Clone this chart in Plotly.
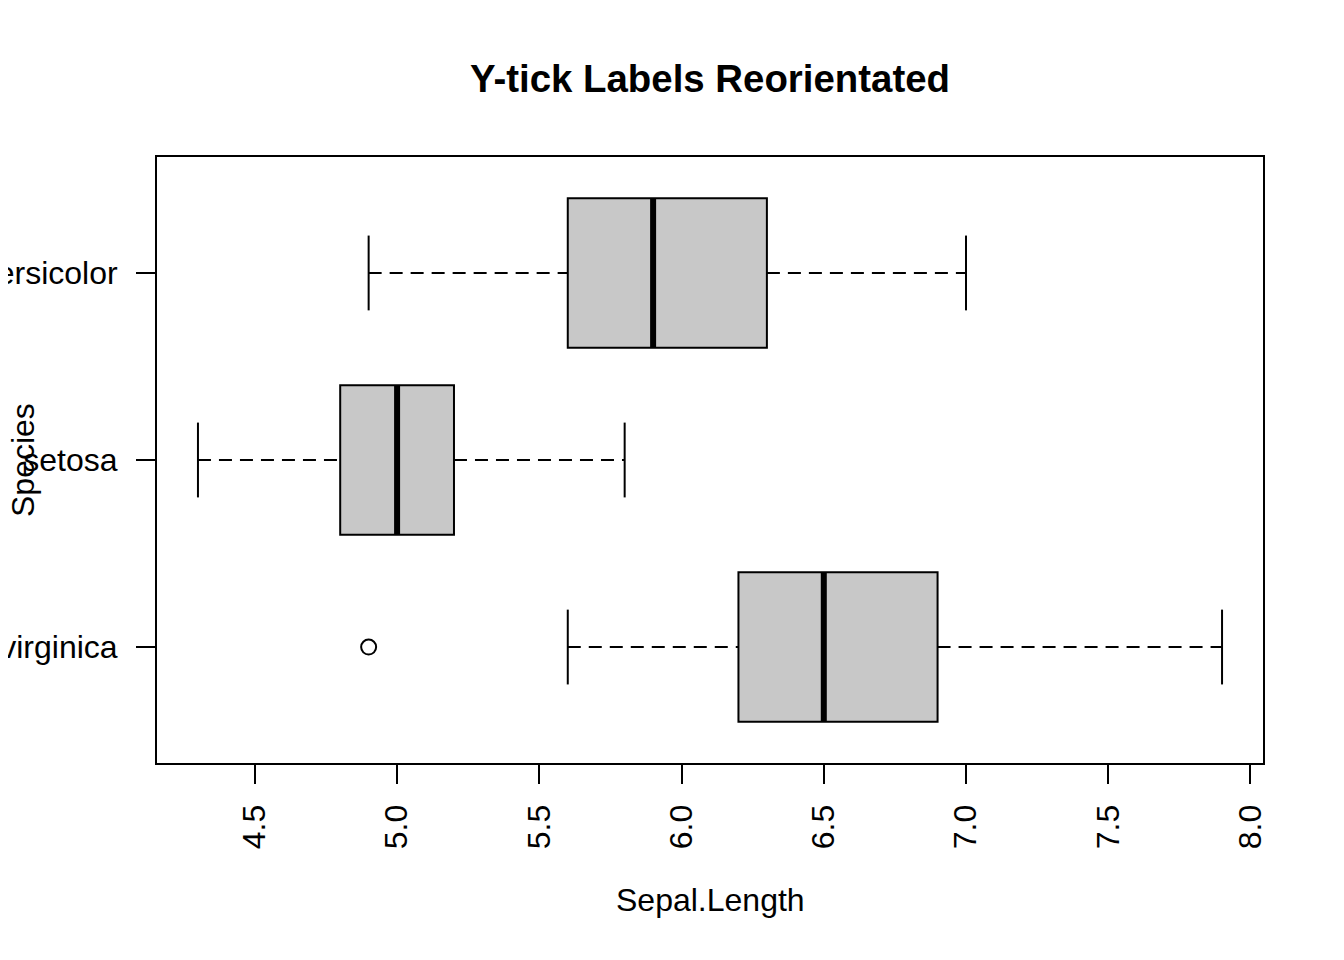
import plotly.graph_objects as go

# Data (bottom to top order on the y axis)
categories = ["virginica", "setosa", "versicolor"]
lower_whisker = [5.6, 4.3, 4.9]
q1 = [6.2, 4.8, 5.6]
median = [6.5, 5.0, 5.9]
q3 = [6.9, 5.2, 6.3]
upper_whisker = [7.9, 5.8, 7.0]
outliers = [[4.9], [], []]

x_ticks = [4.5, 5.0, 5.5, 6.0, 6.5, 7.0, 7.5, 8.0]
x_ticklabels = ["4.5", "5.0", "5.5", "6.0", "6.5", "7.0", "7.5", "8.0"]

FONT = "Liberation Sans, Arial, Helvetica, sans-serif"
BOX_HALF = 0.4
STAPLE_HALF = 0.2
OFF = 8  # page body offset compensation

fig = go.Figure()
shapes = []

for i, cat in enumerate(categories):
    pos = i + 1
    # dashed whiskers
    fig.add_trace(go.Scatter(
        x=[lower_whisker[i], q1[i]], y=[pos, pos], mode="lines",
        line=dict(color="black", width=2, dash="13px,8px"),
        showlegend=False, hoverinfo="skip"))
    fig.add_trace(go.Scatter(
        x=[q3[i], upper_whisker[i]], y=[pos, pos], mode="lines",
        line=dict(color="black", width=2, dash="13px,8px"),
        showlegend=False, hoverinfo="skip"))
    # staples
    for w in (lower_whisker[i], upper_whisker[i]):
        shapes.append(dict(type="line", xref="x", yref="y",
                           x0=w, x1=w, y0=pos - STAPLE_HALF, y1=pos + STAPLE_HALF,
                           line=dict(color="black", width=2)))
    # box
    shapes.append(dict(type="rect", xref="x", yref="y",
                       x0=q1[i], x1=q3[i], y0=pos - BOX_HALF, y1=pos + BOX_HALF,
                       fillcolor="#C8C8C8", line=dict(color="black", width=2),
                       layer="above"))
    # median
    shapes.append(dict(type="line", xref="x", yref="y",
                       x0=median[i], x1=median[i], y0=pos - BOX_HALF, y1=pos + BOX_HALF,
                       line=dict(color="black", width=6), layer="above"))
    # outliers
    if outliers[i]:
        fig.add_trace(go.Scatter(
            x=outliers[i], y=[pos] * len(outliers[i]), mode="markers",
            marker=dict(symbol="circle-open", size=15, color="black",
                        line=dict(width=2, color="black")),
            showlegend=False, hoverinfo="skip"))

fig.update_layout(
    width=1344, height=960,
    margin=dict(l=157 - OFF, r=1344 - (1263 - OFF), t=157 - OFF,
                b=960 - (763 - OFF), autoexpand=False),
    paper_bgcolor="white", plot_bgcolor="white",
    font=dict(family=FONT, size=32, color="black"),
    shapes=shapes,
    showlegend=False,
    title=dict(text="<b>Y-tick Labels Reorientated</b>",
               font=dict(family=FONT, size=38.4, color="black"),
               x=0.5, xref="paper", xanchor="center",
               y=1 - (79 - OFF) / 960, yref="container", yanchor="middle"),
    xaxis=dict(range=[4.156, 8.044], tickmode="array",
               tickvals=x_ticks, ticktext=x_ticklabels,
               ticks="outside", ticklen=19, tickwidth=2, tickcolor="black",
               tickangle=-90, ticklabelstandoff=8,
               showline=True, linecolor="black", linewidth=2, mirror=True,
               showgrid=False, zeroline=False, automargin=False,
               tickfont=dict(size=32, family=FONT, color="black")),
    yaxis=dict(range=[0.38, 3.62], tickmode="array",
               tickvals=[i + 1 for i in range(len(categories))],
               ticktext=categories,
               ticks="outside", ticklen=19, tickwidth=2, tickcolor="black",
               ticklabelstandoff=12,
               showline=True, linecolor="black", linewidth=2, mirror=True,
               showgrid=False, zeroline=False, automargin=False,
               tickfont=dict(size=32, family=FONT, color="black")),
    annotations=[
        dict(text="Species", textangle=-90, xref="paper", yref="paper",
             x=0, y=0.5, xanchor="center", yanchor="middle",
             xshift=-134, showarrow=False,
             font=dict(family=FONT, size=32, color="black")),
        dict(text="Sepal.Length", xref="paper", yref="paper",
             x=0.5, y=0, xanchor="center", yanchor="middle",
             yshift=-(900 - 763), showarrow=False,
             font=dict(family=FONT, size=32, color="black")),
    ],
)

fig.write_html("out.html")
